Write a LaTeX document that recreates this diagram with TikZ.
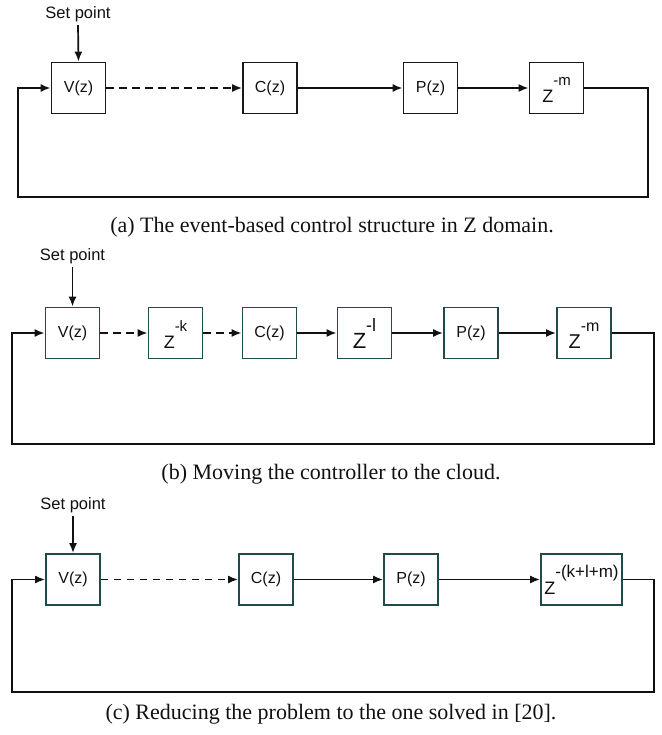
\documentclass[tikz,border=0pt]{standalone}
\usepackage{fontspec}
\setmainfont{Liberation Serif}
\setsansfont{Liberation Sans}
\usetikzlibrary{arrows.meta, positioning, calc}
\definecolor{Ink}{HTML}{111111}
\definecolor{BoxPlain}{HTML}{1A1A1A}
\definecolor{BoxTeal}{HTML}{1F4C4A}
% Z size, exponent size, exponent
\newcommand{\zdelay}[3]{\rule{0pt}{30pt}{\fontsize{#1}{#1}\selectfont Z}\raisebox{17pt}{\fontsize{#2}{#2}\selectfont #3}}

\begin{document}
\begin{tikzpicture}[
  x=1pt, y=-1pt,
  font=\sffamily\fontsize{16}{16}\selectfont,
  block/.style={
    rectangle,
    draw=BoxPlain,
    line width=1.8pt,
    minimum width=54pt,
    minimum height=51pt,
    inner sep=0pt,
    text=Ink
  },
  tealblock/.style={
    block,
    draw=BoxTeal
  },
  setpt/.style={
    text=Ink,
    font=\sffamily\fontsize{16.5}{16.5}\selectfont
  },
  caption/.style={
    text=Ink,
    font=\rmfamily\fontsize{22}{22}\selectfont
  },
  solidarrow/.style={
    -{Latex[length=10pt,width=8pt]},
    line width=1.7pt,
    draw=Ink
  },
  dasharrow/.style={
    solidarrow,
    dash pattern=on 7.5pt off 5.5pt
  },
  loopline/.style={
    solidarrow
  }
]

\useasboundingbox (0,0) rectangle (661,735);

% (a)
\node[setpt] (asp) at (78,14) {Set point};
\node[block] (av) at (78.5,88) {V(z)};
\node[block] (ac) at (270,88) {C(z)};
\node[block] (ap) at (430.5,88) {P(z)};
\node[block] (am) at (556.5,88) {\zdelay{18}{15}{-m}};
\coordinate (aR) at (648,88);
\coordinate (aB) at (18,197);

\draw[solidarrow] (asp.south) -- (av.north);
\draw[dasharrow] (av.east) -- (ac.west);
\draw[solidarrow] (ac.east) -- (ap.west);
\draw[solidarrow] (ap.east) -- (am.west);
\draw[loopline] (am.east) -- (aR) |- (aB) |- (av.west);

\node[caption] (acap) at (332,227) {(a) The event-based control structure in Z domain.};

% (b)
\node[setpt] (bsp) at (72.5,256) {Set point};
\node[tealblock] (bv) at (72.5,333) {V(z)};
\node[tealblock] (bk) at (175.5,333) {\zdelay{18}{15}{-k}};
\node[tealblock] (bc) at (269.5,333) {C(z)};
\node[tealblock] (bl) at (364.5,333) {\zdelay{22}{18}{-l}};
\node[tealblock] (bp) at (471,333) {P(z)};
\node[tealblock] (bm) at (584,333) {\zdelay{20}{16}{-m}};
\coordinate (bR) at (654,333);
\coordinate (bB) at (12,444);

\draw[solidarrow] (bsp.south) -- (bv.north);
\draw[dasharrow] (bv.east) -- (bk.west);
\draw[dasharrow] (bk.east) -- (bc.west);
\draw[solidarrow] (bc.east) -- (bl.west);
\draw[solidarrow] (bl.east) -- (bp.west);
\draw[solidarrow] (bp.east) -- (bm.west);
\draw[loopline] (bm.east) -- (bR) |- (bB) |- (bv.west);

\node[caption] (bcap) at (331,474) {(b) Moving the controller to the cloud.};

% (c)
\node[setpt] (csp) at (73,505) {Set point};
\node[tealblock] (cv) at (73,579.5) {V(z)};
\node[tealblock] (cc) at (266,579.5) {C(z)};
\node[tealblock] (cp) at (411,579.5) {P(z)};
\node[tealblock, minimum width=81pt] (cd) at (581.5,579.5) {\zdelay{18}{17}{-(k+l+m)}};
\coordinate (cR) at (654,579.5);
\coordinate (cB) at (12,692);

\draw[solidarrow] (csp.south) -- (cv.north);
\draw[dasharrow] (cv.east) -- (cc.west);
\draw[solidarrow] (cc.east) -- (cp.west);
\draw[solidarrow] (cp.east) -- (cd.west);
\draw[loopline] (cd.east) -- (cR) |- (cB) |- (cv.west);

\node[caption] (ccap) at (331,714) {(c) Reducing the problem to the one solved in [20].};

\end{tikzpicture}
\end{document}
